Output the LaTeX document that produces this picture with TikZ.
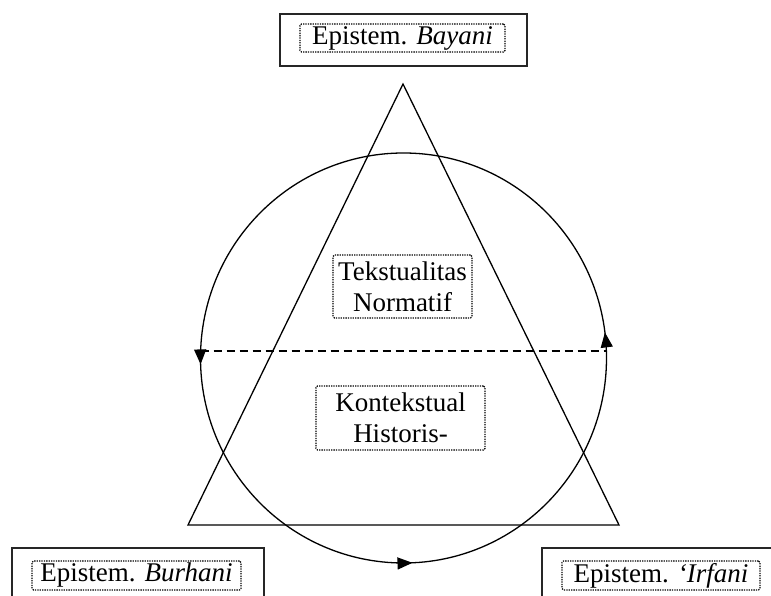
\documentclass[tikz,border=0pt]{standalone}
\usepackage{fontspec}
\setmainfont{Liberation Serif}
\usetikzlibrary{arrows.meta,decorations.markings}

\begin{document}
\begin{tikzpicture}[x=1pt, y=1pt,
  >={Triangle[length=15pt,width=12pt]},
  frame/.style={draw=black!85, line width=1.6pt, minimum width=250pt, minimum height=52pt, inner sep=0pt},
  tag/.style={draw=black, line width=1.3pt, dash pattern=on 1.3pt off 1.1pt, rounded corners=1.5pt,
    inner sep=0pt, align=center, font=\fontsize{27}{31}\selectfont},
  outline/.style={line width=1.3pt}]

  \useasboundingbox (0,0) rectangle (771,596);
  \clip (0,0) rectangle (771,596);

  % Triangle
  \draw[outline, line join=miter] (403,512) -- (619,71) -- (188,71) -- cycle;

  % Circle with direction arrows
  \coordinate (cen) at (403.5,238);
  \draw[outline, postaction={decorate}, decoration={markings,
      mark=at position 0.02 with {\arrow{>}},
      mark=at position 0.505 with {\arrow{>}},
      mark=at position 0.757 with {\arrow{>}}}]
    (cen) ellipse (203 and 205);

  % Dashed divider
  \coordinate (west) at (200.5,245);
  \coordinate (east) at (606.5,245);
  \draw[outline, dash pattern=on 8pt off 5pt] (west) -- (east);

  % Inner labels
  \node[tag, minimum width=139pt, minimum height=63pt] (tekstual) at (402.5,309.5) {Tekstualitas\\Normatif};
  \node[tag, minimum width=169pt, minimum height=64pt] (kontekstual) at (400.5,178) {Kontekstual\\Historis-};

  % Epistem. Bayani (top)
  \node[frame, minimum width=247pt] (bayaniframe) at (403.5,556) {};
  \node[tag, minimum width=205pt, minimum height=28pt] (bayani) at (402.5,558) {Epistem. \textit{Bayani}};

  % Epistem. Burhani (bottom left)
  \node[frame, minimum width=252pt] (burhaniframe) at (138,22) {};
  \node[tag, minimum width=209pt, minimum height=29pt] (burhani) at (136.5,20.5) {Epistem. \textit{Burhani}};

  % Epistem. Irfani (bottom right)
  \node[frame, minimum width=252pt] (irfaniframe) at (668,22) {};
  \node[tag, minimum width=198pt, minimum height=29pt] (irfani) at (661,20.5) {Epistem. \textit{`Irfani}};

\end{tikzpicture}
\end{document}
